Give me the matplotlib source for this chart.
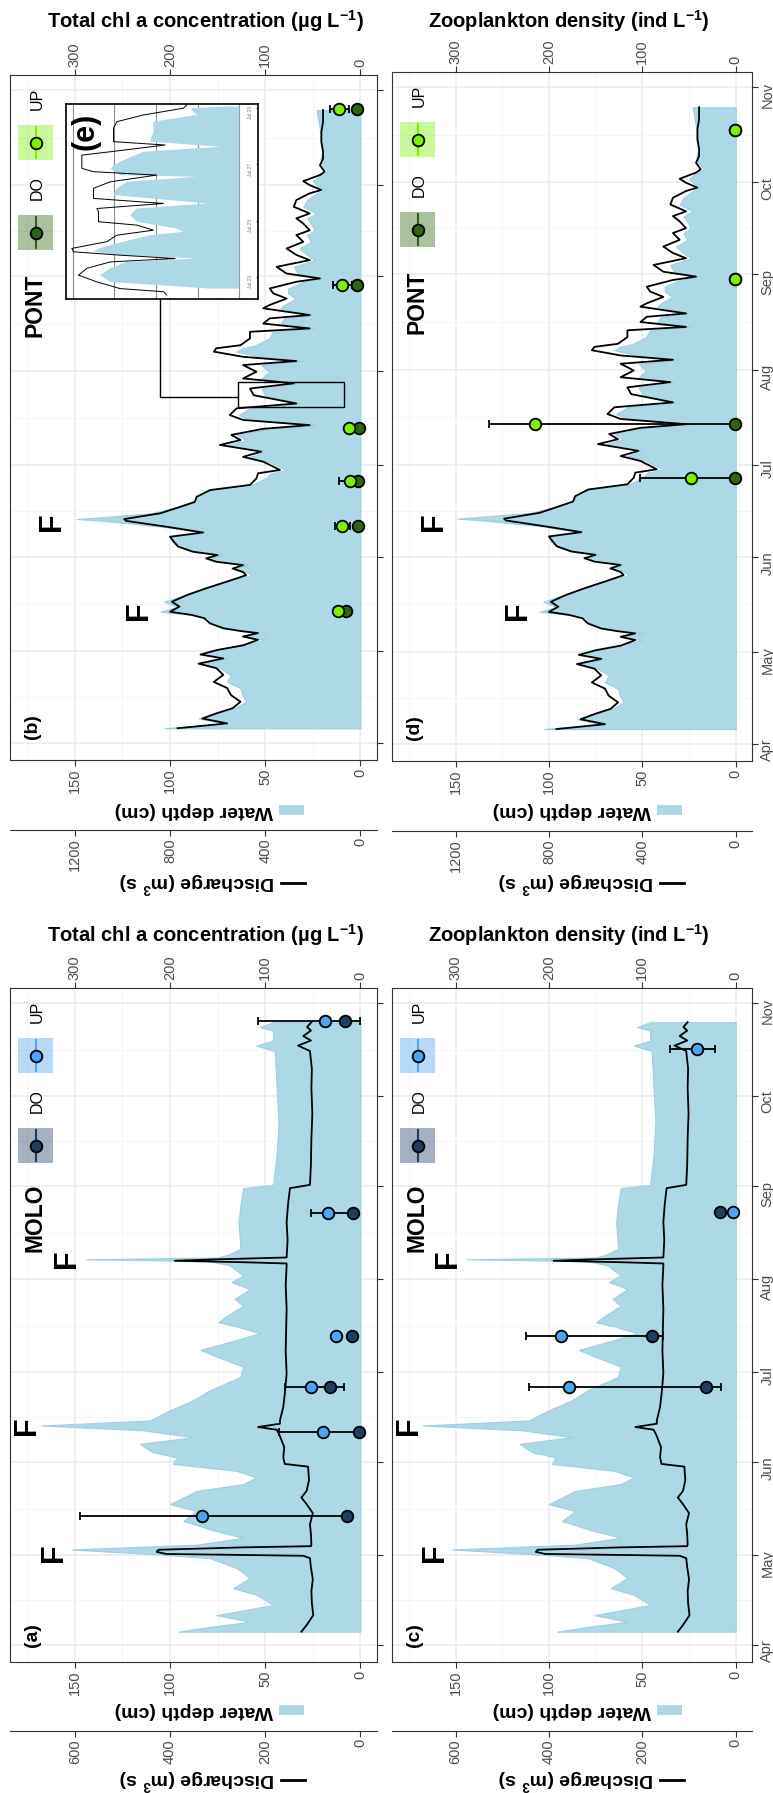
import numpy as np
import matplotlib
matplotlib.use("Agg")
import matplotlib.pyplot as plt
from matplotlib.patches import Rectangle
from matplotlib.lines import Line2D

plt.rcParams['font.family'] = ['Liberation Sans', 'DejaVu Sans']
plt.rcParams['mathtext.default'] = 'regular'

## dati (giorni contati dal 1 aprile) ##
month_lab = ['Apr', 'May', 'Jun', 'Jul', 'Aug', 'Sep', 'Oct', 'Nov']
month_day = [0, 30, 61, 91, 122, 153, 183, 214]
mid_day = [15, 45.5, 76, 106.5, 137.5, 168, 198.5]

# PONT: portata (m3/s) e profondita (cm)
pont_day = [4.8, 6.4, 8.0, 9.7, 11.4, 13.5, 15.7, 18.0, 20.0, 22.3,
            24.5, 26.0, 27.7, 29.0, 30.5, 32.0, 33.8, 34.9, 36.0, 36.7,
            37.6, 39.2, 40.9, 42.0, 43.0, 44.7, 46.3, 48.5, 50.7, 52.9,
            55.0, 56.0, 57.2, 58.3, 59.4, 60.5, 61.6, 62.7, 64.4, 66.0,
            67.6, 69.0, 70.9, 72.8, 73.4, 75.3, 77.0, 79.0, 80.7, 82.9,
            84.6, 86.7, 88.4, 89.5, 92.2, 93.8, 95.5, 97.7, 99.3, 101.0,
            103.0, 104.2, 105.9, 107.5, 109.7, 111.3, 114.0, 116.2, 117.9, 119.5,
            121.7, 123.9, 125.2, 126.6, 128.3, 129.4, 130.4, 132.6, 134.8, 135.9,
            137.5, 139.2, 140.3, 142.5, 143.6, 145.7, 147.4, 149.0, 151.2, 152.3,
            153.9, 156.1, 158.3, 160.0, 162.1, 164.3, 166.5, 168.1, 170.3, 172.0,
            173.6, 175.8, 178.0, 180.2, 181.3, 182.9, 184.2, 186.2, 187.3, 189.4,
            191.6, 193.8, 197.1, 200.4, 203.6, 207.5]
pont_q = [768, 560, 664, 605, 536, 504, 544, 560, 616, 576,
          605, 680, 576, 672, 600, 493, 430, 493, 430, 504,
          576, 632, 656, 712, 800, 760, 792, 728, 648, 560,
          480, 493, 536, 493, 605, 648, 600, 704, 766, 784,
          800, 661, 816, 984, 992, 840, 773, 696, 688, 632,
          464, 437, 430, 338, 408, 493, 416, 590, 504, 542,
          408, 213, 493, 549, 520, 269, 448, 464, 280, 493,
          437, 493, 269, 493, 616, 605, 504, 464, 464, 213,
          408, 381, 213, 408, 381, 310, 366, 381, 269, 170,
          310, 352, 213, 269, 310, 240, 269, 213, 240, 269,
          213, 280, 269, 213, 164, 213, 240, 170, 150, 170,
          157, 157, 164, 164, 157, 157]
pont_depth = [103, 72, 85, 75, 66, 60, 62, 63, 70, 68,
              74, 84, 70, 84, 74, 63, 50, 62, 49, 62,
              72, 78, 80, 88, 105, 96, 103, 92, 82, 72,
              57, 60, 68, 59, 75, 80, 73, 88, 96, 99,
              100, 83, 104, 135, 149, 110, 98, 88, 86, 79,
              57, 50, 47, 39, 48, 58, 50, 70, 60, 65,
              48, 24, 58, 64, 58, 32, 50, 52, 33, 52,
              48, 52, 30, 52, 65, 62, 55, 48, 46, 24,
              42, 40, 25, 42, 40, 34, 38, 38, 30, 20,
              33, 35, 24, 28, 32, 26, 28, 24, 26, 28,
              23, 30, 28, 23, 19, 23, 25, 21, 17, 20,
              21, 20, 21, 21, 22, 23]

# MOLO: portata (m3/s)
molo_q_day = [4.5, 6.7, 10.0, 14.0, 17.9, 22.0, 26.0, 29.0, 29.8, 30.4,
              31.1, 31.8, 32.6, 33.0, 33.5, 37.0, 40.3, 44.0, 47.0, 49.2,
              51.4, 55.0, 59.5, 60.4, 62.6, 66.0, 70.4, 71.8, 72.7, 73.8,
              74.9, 79.4, 85.0, 90.6, 98.0, 105.3, 112.0, 120.0, 126.6, 127.2,
              127.6, 128.1, 128.5, 129.2, 135.0, 141.0, 147.0, 152.3, 153.4, 160.0,
              169.0, 177.0, 185.8, 192.0, 198.0, 199.8, 201.5, 203.0, 204.8, 206.0,
              207.6]
molo_q = [124, 113, 99, 102, 103, 100, 104, 106, 120, 408,
          428, 424, 246, 104, 103, 104, 106, 100, 113, 124,
          113, 108, 110, 159, 162, 160, 171, 176, 215, 169,
          169, 162, 158, 155, 157, 156, 155, 157, 155, 155,
          240, 390, 320, 155, 153, 155, 152, 148, 106, 104,
          103, 101, 103, 102, 106, 131, 104, 120, 104, 112,
          103]
# MOLO: profondita (cm)
molo_depth_day = [4.5, 6.1, 7.8, 10.0, 13.4, 16.8, 19.0, 22.4, 25.7, 29.0,
                  30.2, 31.9, 33.5, 35.8, 38.0, 41.4, 44.7, 47.0, 49.2, 51.4,
                  53.7, 55.9, 58.1, 60.4, 62.6, 64.3, 67.1, 69.3, 71.6, 73.2,
                  74.9, 78.3, 81.6, 85.0, 89.4, 92.8, 96.2, 98.4, 101.7, 104.0,
                  106.2, 107.6, 109.8, 113.1, 115.4, 118.7, 121.0, 123.2, 126.6, 128.0,
                  128.6, 129.2, 130.0, 132.0, 141.0, 146.7, 152.3, 153.4, 163.5, 174.6,
                  185.8, 198.0, 199.8, 201.5, 204.8, 206.0, 207.6]
molo_depth = [95.7, 79, 58, 75.6, 45.8, 54.6, 66.8, 58, 65, 79,
              105, 151.7, 86, 61.6, 75.6, 93, 86, 100, 93, 86,
              61.6, 54.6, 65, 98.3, 96.6, 109, 115.8, 87.8, 114, 167.5,
              110.6, 100, 87.8, 79, 63, 61.6, 75.6, 84, 65, 52.8,
              65, 74.7, 70, 61.6, 66, 58, 67.7, 61.6, 68.6, 80,
              144, 75, 70, 63, 64, 63, 61.6, 45.8, 44, 43,
              44, 45, 54.6, 45.8, 45.8, 52.8, 45.8]

nan = np.nan
# chl a e zooplancton (DO = a valle, UP = a monte), con intervallo min-max di UP
pont_chl_day = [43.3, 71.2, 86.0, 103.1, 150.0, 208.0]
pont_chl_do = [15.4, 2.5, 2.5, 1.4, 3.5, 3.5]
pont_chl_up = [23.5, 19, 11, 12, 19, 22]
pont_chl_lo = [nan, 11, -1, nan, 9, 12]
pont_chl_hi = [nan, 27, 23, nan, 29, 32]

pont_zoo_day = [86.8, 104.2, 151.4, 200.0]
pont_zoo_do = [1, 1, 0.5, 0.5]
pont_zoo_up = [48, 215, 1, 1]
pont_zoo_lo = [0, 0, nan, nan]
pont_zoo_hi = [103, 264, nan, nan]

molo_chl_day = [43.0, 71.0, 86.1, 102.9, 143.9, 208.0]
molo_chl_do = [14, 1.7, 31.5, 8.7, 7.7, 16.5]
molo_chl_up = [166, 39, 52, 26, 34, 37.5]
molo_chl_lo = [12, 0, 17, nan, 7, 0.7]
molo_chl_hi = [295, 85, 79.5, nan, 51.5, 107.5]

molo_zoo_day = [85.9, 103.0, 144.3, 198.6]
molo_zoo_do = [32, 89.5, 17, nan]
molo_zoo_up = [179, 187, 2.6, 41]
molo_zoo_lo = [16, 78, nan, 22.6]
molo_zoo_hi = [221.6, 225, nan, 70]

# riquadro (e): dati orari 23-29 luglio (giorni dal 23 luglio)
ins_fill_t = [-0.42, -0.18, 0.06, 0.30, 0.53, 0.65, 0.77, 0.89, 1.01, 1.25,
              1.48, 1.60, 1.72, 1.96, 2.20, 2.43, 2.61, 2.91, 3.15, 3.38,
              3.56, 3.62, 3.86, 4.10, 4.45, 4.63, 4.81, 5.17, 5.52, 5.76,
              6.00, 6.06]
ins_fill = [35, 155, 167, 155, 135, 51, 143, 175, 169, 139,
            107, 67, 75, 123, 131, 123, 39, 151, 147, 135,
            51, 143, 155, 143, 115, 23, 107, 103, 103, 51,
            59, 19]
ins_line_t = [-0.65, -0.53, -0.42, -0.18, 0.06, 0.30, 0.53, 0.65, 0.77, 0.89,
              1.01, 1.25, 1.48, 1.66, 1.84, 1.96, 2.32, 2.43, 2.61, 2.79,
              3.15, 3.38, 3.62, 3.74, 3.86, 4.33, 4.45, 4.69, 4.81, 5.29,
              5.52, 5.76, 6.00, 6.12]
ins_line = [87, 91, 143, 171, 193, 183, 155, 77, 143, 199,
            201, 159, 147, 103, 123, 169, 169, 171, 91, 175,
            175, 155, 99, 175, 189, 189, 155, 89, 151, 151,
            147, 115, 67, 63]
ins_lab = ['Jul 23', 'Jul 25', 'Jul 27', 'Jul 29']

## colori ##
blu_fill = '#add8e6'
pont_col = {'DO': '#2f6410', 'UP': '#7cf000'}
molo_col = {'DO': '#1f3d63', 'UP': '#4da3f5'}
grigio = '#4d4d4d'

W, H = 773, 1793
fig = plt.figure(figsize=(W / 100, H / 100), dpi=100)


def fx(x):
    return x / W


def fy(y):
    return 1 - y / H


DEPTH_LIM = (184, -8.7)
DAY_LIM = (-5.6, 219)


def pannello(box, d_day, d_val, q_day, q_val, q_fac, q_ticks,
             p_day, p_do, p_up, p_lo, p_hi, col, lettera, stazione, f_pos, lettera_day, mesi):
    l, t, r, b = box
    ax = fig.add_axes([fx(l), fy(b), (r - l) / W, (b - t) / H])
    ax.fill_betweenx(d_day, 0, d_val, facecolor=blu_fill, edgecolor='#9fd0e1', lw=0.8, zorder=2)
    ax.set_xticks([0, 50, 100, 150])
    ax.set_xticks([25, 75, 125, 175], minor=True)
    ax.set_yticks(month_day)
    ax.set_yticks(mid_day, minor=True)
    ax.grid(which='major', color='#ebebeb', lw=1.1)
    ax.grid(which='minor', color='#f4f4f4', lw=0.6)
    ax.set_axisbelow(True)
    ax.yaxis.tick_right()
    if mesi:
        ax.set_yticklabels(month_lab)
    else:
        ax.set_yticklabels([])
    ax.tick_params(which='minor', length=0)
    ax.tick_params(axis='y', which='major', right=True, left=False, length=4, color='#333333',
                   labelsize=10.5, labelcolor=grigio, labelrotation=90, pad=2)
    ax.tick_params(axis='x', which='major', length=4, color='#333333', labelsize=10.5,
                   labelcolor=grigio, labelrotation=90, pad=2)
    for s in ax.spines.values():
        s.set_color('#333333')
        s.set_linewidth(0.8)

    # asse della portata (spostato sotto)
    axq = ax.twiny()
    axq.plot(q_val, q_day, color='black', lw=1.3)
    axq.set_xlim(DEPTH_LIM[0] * q_fac, DEPTH_LIM[1] * q_fac)
    axq.xaxis.set_ticks_position('bottom')
    axq.spines['bottom'].set_position(('axes', -0.102))
    for s in ['top', 'left', 'right']:
        axq.spines[s].set_visible(False)
    axq.spines['bottom'].set_color('#333333')
    axq.spines['bottom'].set_linewidth(0.8)
    axq.set_xticks(q_ticks)
    axq.tick_params(axis='x', length=4, color='#333333', labelsize=10.5, labelcolor=grigio,
                    labelrotation=90, pad=2)

    # asse chl / zooplancton (sopra)
    axc = ax.twiny()
    axc.set_xlim(DEPTH_LIM[0] * 2, DEPTH_LIM[1] * 2)
    axc.set_xticks([0, 100, 200, 300])
    axc.tick_params(axis='x', length=4, color='#333333', labelsize=10.5, labelcolor=grigio,
                    labelrotation=90, pad=2)
    for s in axc.spines.values():
        s.set_visible(False)
    p_day = np.array(p_day)
    p_up = np.array(p_up)
    p_lo = np.array(p_lo)
    p_hi = np.array(p_hi)
    ok = ~np.isnan(p_lo)
    axc.errorbar(p_up[ok], p_day[ok], xerr=[p_up[ok] - p_lo[ok], p_hi[ok] - p_up[ok]],
                 fmt='none', ecolor='black', elinewidth=1.3, capsize=3, capthick=1.3, zorder=3)
    axc.scatter(p_do, p_day, s=70, c=col['DO'], edgecolors='black', linewidths=1.3, zorder=4)
    axc.scatter(p_up, p_day, s=70, c=col['UP'], edgecolors='black', linewidths=1.3, zorder=5)

    # legenda interna
    def pa(x, y):
        return ((x - l) / (r - l), (b - y) / (b - t))

    for nome, dy_txt, dy_box in [('UP', 24, 50), ('DO', 113, 140)]:
        axc.text(*pa(l + 27, t + dy_txt), nome, transform=axc.transAxes, rotation=90,
                 ha='center', va='center', fontsize=11.5)
        x0, y0 = pa(l + 8, t + dy_box + 35)
        axc.add_patch(Rectangle((x0, y0), 35 / (r - l), 35 / (b - t), transform=axc.transAxes,
                                facecolor=col[nome], alpha=0.4, lw=0))
        kx, ky0 = pa(l + 25.5, t + dy_box + 33)
        _, ky1 = pa(l + 25.5, t + dy_box + 2)
        axc.plot([kx, kx], [ky0, ky1], transform=axc.transAxes, color=col[nome], lw=1.5)
        axc.plot([kx], [(ky0 + ky1) / 2], 'o', transform=axc.transAxes, ms=8.4,
                 mfc=col[nome], mec='black', mew=1.3)
    axc.text(*pa(l + 25, t + 230), stazione, transform=axc.transAxes, rotation=90,
             ha='center', va='center', fontsize=16.5, fontweight='bold')

    for fxp, fday in f_pos:
        ax.text(fxp, fday, 'F', rotation=90, ha='center', va='center', fontsize=22, fontweight='bold')
    ax.text(172, lettera_day, lettera, rotation=90, ha='center', va='center',
            fontsize=14, fontweight='bold')

    ax.set_xlim(DEPTH_LIM)
    ax.set_ylim(DAY_LIM)
    return ax


pont_f = [(161.7, 72.5), (116.4, 43.3)]
molo_f = [(154, 128.8), (175, 73.2), (161, 30.8)]

# (b) PONT chl
ax_b = pannello((10, 75, 377, 760), pont_day, pont_depth, pont_day, pont_q, 8, [0, 400, 800, 1200],
                pont_chl_day, pont_chl_do, pont_chl_up, pont_chl_lo, pont_chl_hi, pont_col,
                '(b)', 'PONT', pont_f, 5.2, False)

# riquadro (e)
axi = fig.add_axes([fx(66), fy(299), 192 / W, 195 / H])
axi.fill_betweenx(ins_fill_t, 0, ins_fill, facecolor=blu_fill, lw=0, zorder=2)
axi.plot(ins_line, ins_line_t, color='black', lw=0.7, zorder=3)
axi.set_xlim(208, -22.5)
axi.set_ylim(-0.79, 6.15)
axi.set_xticks([0, 50, 100, 150, 200])
axi.set_xticklabels([])
axi.tick_params(axis='x', length=0)
axi.grid(axis='x', color='#8c8c8c', lw=0.8)
axi.set_axisbelow(True)
axi.set_yticks([0, 2, 4, 6], labels=ins_lab)
axi.tick_params(axis='y', left=False, labelleft=False, right=True, labelright=True, length=1.5,
                direction='in', pad=-7, labelsize=3.5, labelcolor='#777777', color='#777777',
                labelrotation=90)
for s in axi.spines.values():
    s.set_color('black')
    s.set_linewidth(1.2)
axi.text(185, 5.17, '(e)', rotation=90, ha='center', va='center', fontsize=22, fontweight='bold')

# zona ingrandita e collegamento
fig.add_artist(Rectangle((fx(237.7), fy(406.7)), 106.3 / W, 25 / H, transform=fig.transFigure,
                         facecolor='none', edgecolor='black', lw=1))
fig.add_artist(Line2D([fx(237.7), fx(160), fx(160)], [fy(396.7), fy(396.7), fy(299)],
                      transform=fig.transFigure, color='black', lw=1))

# (d) PONT zooplancton
pannello((392, 72, 752, 761), pont_day, pont_depth, pont_day, pont_q, 8, [0, 400, 800, 1200],
         pont_zoo_day, pont_zoo_do, pont_zoo_up, pont_zoo_lo, pont_zoo_hi, pont_col,
         '(d)', 'PONT', pont_f, 5.2, True)

# (a) MOLO chl
pannello((10, 988, 377, 1662), molo_depth_day, molo_depth, molo_q_day, molo_q, 4, [0, 200, 400, 600],
         molo_chl_day, molo_chl_do, molo_chl_up, molo_chl_lo, molo_chl_hi, molo_col,
         '(a)', 'MOLO', molo_f, 3.4, False)

# (c) MOLO zooplancton
pannello((392, 988, 752, 1662), molo_depth_day, molo_depth, molo_q_day, molo_q, 4, [0, 200, 400, 600],
         molo_zoo_day, molo_zoo_do, molo_zoo_up, molo_zoo_lo, molo_zoo_hi, molo_col,
         '(c)', 'MOLO', molo_f, 3.4, True)

## titoli ed etichette ##
tit_chl = 'Total chl a concentration (µg L$^{-1}$)'
tit_zoo = 'Zooplankton density (ind L$^{-1}$)'
for ytit in [21, 935]:
    fig.text(fx(205), fy(ytit), tit_chl, ha='center', va='center', fontsize=14.5, fontweight='bold')
    fig.text(fx(569), fy(ytit), tit_zoo, ha='center', va='center', fontsize=14.5, fontweight='bold')

renderer = fig.canvas.get_renderer()
for cx in [193.5, 572]:
    for y_dep, y_q in [(810, 883), (1710, 1780)]:
        td = fig.text(fx(cx), fy(y_dep), 'Water depth (cm)', rotation=180, ha='center', va='center',
                      fontsize=14, fontweight='bold')
        bb = td.get_window_extent(renderer)
        fig.add_artist(Rectangle(((bb.x1 + 6) / W, fy(y_dep + 5)), 25 / W, 10 / H,
                                 transform=fig.transFigure, facecolor=blu_fill, edgecolor='none'))
        tq = fig.text(fx(cx + 4), fy(y_q), 'Discharge (m$^3$ s)', rotation=180, ha='center', va='center',
                      fontsize=14, fontweight='bold')
        bb = tq.get_window_extent(renderer)
        fig.add_artist(Line2D([(bb.x1 + 6) / W, (bb.x1 + 30) / W], [fy(y_q), fy(y_q)],
                              transform=fig.transFigure, color='black', lw=2))

fig.savefig('out.png', dpi=100)
